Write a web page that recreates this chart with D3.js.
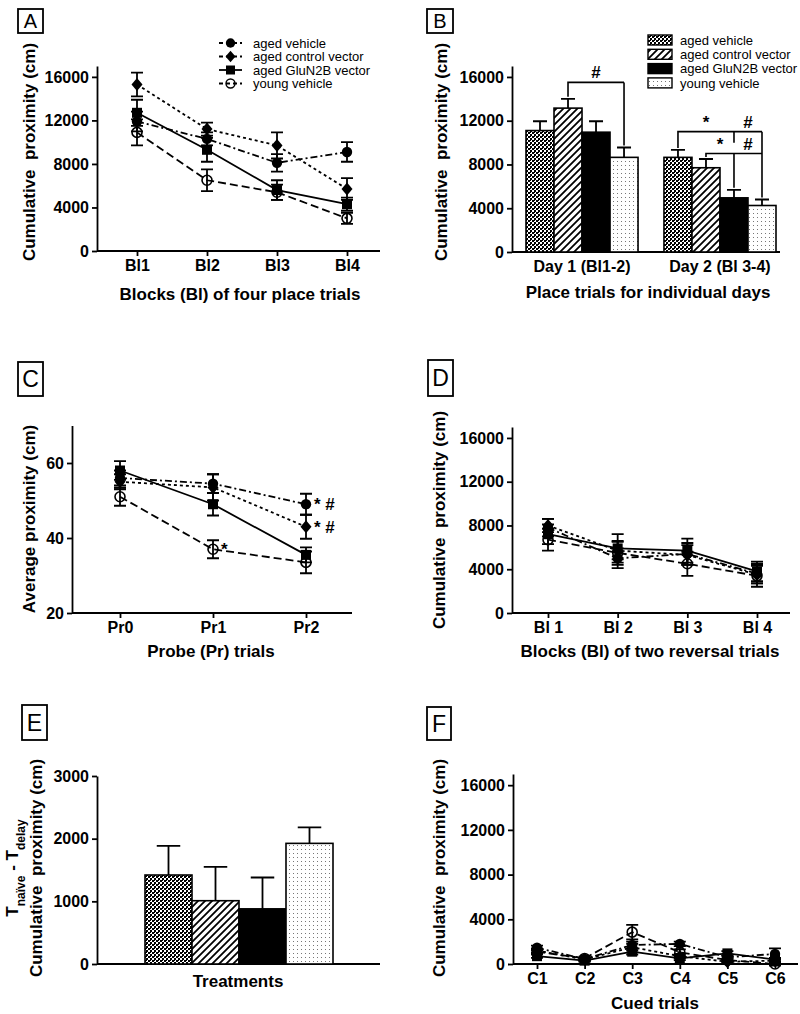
<!DOCTYPE html>
<html>
<head>
<meta charset="utf-8">
<script src="https://d3js.org/d3.v7.min.js"></script>
<style>
    body { margin: 0; background: #fff; }
    svg text { font-family: "Liberation Sans", Arial, sans-serif; fill: #000; }
    .axis path, .axis line { stroke: #000; stroke-width: 1.8; }
    .axis .tick text { font-size: 16px; font-weight: bold; }
    .ttl { font-size: 17px; font-weight: bold; white-space: pre; }
    .leg { font-size: 13px; }
    .sig { font-size: 17px; font-weight: bold; white-space: pre; }
</style>
</head>
<body>
<svg id="fig" width="800" height="1014"></svg>
<script>
    // ---- data ----
    var groups = ["aged vehicle", "aged control vector", "aged GluN2B vector", "young vehicle"];

    // A: place trials, blocks of four
    var blocksA = ["Bl1", "Bl2", "Bl3", "Bl4"];
    var meanA = [[11900, 10300, 8100, 9100], [15300, 11200, 9700, 5700], [12700, 9300, 5600, 4300], [10900, 6500, 5400, 3000]];
    var semA = [[900, 600, 800, 900], [1100, 600, 1200, 1000], [1200, 1100, 900, 600], [1200, 1000, 700, 500]];

    // B: place trials per day
    var days = ["Day 1 (Bl1-2)", "Day 2 (Bl 3-4)"];
    var meanB = [[11100, 8650], [13150, 7700], [10950, 4950], [8650, 4250]];
    var semB = [[850, 680], [850, 800], [1000, 730], [900, 550]];

    // C: probe trials
    var probes = ["Pr0", "Pr1", "Pr2"];
    var meanC = [[56, 54.5, 49], [55, 53.5, 43], [58, 49, 35.5], [51, 37, 33.5]];
    var semC = [[2, 2.5, 2.8], [2, 3.5, 3.2], [2.5, 3, 2], [2.4, 2.4, 2.9]];
    var sigC = [{ s: 3, i: 1, t: "*" }, { s: 0, i: 2, t: "* #" }, { s: 1, i: 2, t: "* #" }];

    // D: reversal trials
    var blocksD = ["Bl 1", "Bl 2", "Bl 3", "Bl 4"];
    var meanD = [[7800, 5000, 5400, 3600], [8000, 5700, 5300, 3500], [7200, 5900, 5700, 3800], [6700, 5500, 4500, 3400]];
    var semD = [[800, 900, 1000, 900], [600, 800, 900, 800], [900, 1300, 1100, 900], [1000, 1100, 1100, 1000]];

    // E: T naive - T delay
    var meanE = [1420, 1010, 880, 1925];
    var semE = [465, 540, 500, 255];

    // F: cued trials
    var cued = ["C1", "C2", "C3", "C4", "C5", "C6"];
    var meanF = [[1450, 450, 1700, 1800, 600, 900], [1200, 400, 1500, 700, 200, 300], [700, 300, 1100, 500, 950, 400], [1100, 500, 2850, 1050, 350, 0]];
    var semF = [[200, 150, 300, 200, 150, 500], [200, 150, 300, 200, 100, 150], [150, 100, 250, 150, 200, 150], [200, 150, 650, 250, 150, 150]];

    // ---- styles ----
    var dashes = ["7,3,2,3", "3,3", null, "8,4"];
    var shapes = ["circle", "diamond", "square", "open"];
    var fills = ["url(#pCheck)", "url(#pHatch)", "#000", "url(#pDots)"];

    var svg = d3.select("#fig");
    var defs = svg.append("defs");

    var pc = defs.append("pattern").attr("id", "pCheck").attr("patternUnits", "userSpaceOnUse").attr("width", 4).attr("height", 4);
    pc.append("rect").attr("width", 4).attr("height", 4).attr("fill", "#fff");
    pc.append("rect").attr("width", 2).attr("height", 2).attr("fill", "#000");
    pc.append("rect").attr("x", 2).attr("y", 2).attr("width", 2).attr("height", 2).attr("fill", "#000");
    pc.append("rect").attr("x", 2).attr("y", 0).attr("width", 1).attr("height", 1).attr("fill", "#000");

    var ph = defs.append("pattern").attr("id", "pHatch").attr("patternUnits", "userSpaceOnUse").attr("width", 7).attr("height", 7);
    ph.append("rect").attr("width", 7).attr("height", 7).attr("fill", "#fff");
    ph.append("path").attr("d", "M-2,2L2,-2M0,7L7,0M5,9L9,5").attr("stroke", "#000").attr("stroke-width", 1.8);

    var pd = defs.append("pattern").attr("id", "pDots").attr("patternUnits", "userSpaceOnUse").attr("width", 4).attr("height", 4);
    pd.append("rect").attr("width", 4).attr("height", 4).attr("fill", "#fff");
    pd.append("rect").attr("x", 1).attr("y", 1).attr("width", 1).attr("height", 1).attr("fill", "#777");

    function marker(g, shape, x, y, k) {
        k = k || 1;
        var p = g.append("path").attr("transform", "translate(" + x + "," + y + ") scale(" + k + ")");
        if (shape == "circle") p.attr("d", d3.symbol(d3.symbolCircle, 85)()).attr("fill", "#000");
        if (shape == "square") p.attr("d", "M-5,-5h10v10h-10z").attr("fill", "#000");
        if (shape == "diamond") p.attr("d", "M0,-6.5L5.5,0L0,6.5L-5.5,0Z").attr("fill", "#000");
        if (shape == "open") p.attr("d", d3.symbol(d3.symbolCircle, 78)()).attr("fill", "none").attr("stroke", "#000").attr("stroke-width", 1.6);
    }

    function panelBox(x, y, w, h, letter, fs) {
        svg.append("rect").attr("x", x).attr("y", y).attr("width", w).attr("height", h)
            .attr("fill", "none").attr("stroke", "#000").attr("stroke-width", 1.8);
        svg.append("text").attr("x", x + w / 2).attr("y", y + h / 2).attr("dy", "0.36em")
            .attr("text-anchor", "middle").style("font-size", fs + "px").text(letter);
    }

    function yTitle(bx, yc, txt) {
        return svg.append("text").attr("class", "ttl").attr("text-anchor", "middle")
            .attr("transform", "translate(" + bx + "," + yc + ") rotate(-90)").text(txt);
    }

    function xTitle(xc, by, txt) {
        svg.append("text").attr("class", "ttl").attr("text-anchor", "middle").attr("x", xc).attr("y", by).text(txt);
    }

    function axes(y, ticks, left, right, bottom, x, tickLen) {
        svg.append("g").attr("class", "axis").attr("transform", "translate(" + left + ",0)")
            .call(d3.axisLeft(y).tickValues(ticks).tickSize(5).tickSizeOuter(0).tickPadding(3).tickFormat(d3.format("d")));
        svg.append("line").attr("x1", left).attr("x2", right).attr("y1", bottom).attr("y2", bottom)
            .attr("stroke", "#000").attr("stroke-width", 1.8);
        if (x) {
            var ax = svg.append("g").attr("class", "axis").attr("transform", "translate(0," + bottom + ")")
                .call(d3.axisBottom(x).tickSize(tickLen).tickPadding(9 - tickLen));
            ax.select(".domain").remove();
        }
    }

    function linePanel(cfg) {
        var x = d3.scalePoint().domain(cfg.cats).range([cfg.first, cfg.last]);
        var y = d3.scaleLinear().domain(cfg.dom).range([cfg.bottom, cfg.top]);
        axes(y, cfg.ticks, cfg.left, cfg.right, cfg.bottom, x, 5);
        var g = svg.append("g");
        var series = cfg.means.map(function (m, s) {
            return m.map(function (v, i) { return { c: cfg.cats[i], v: v, e: cfg.sems[s][i] }; });
        });
        series.forEach(function (pts, s) {
            g.append("path").datum(pts)
                .attr("d", d3.line().x(function (d) { return x(d.c); }).y(function (d) { return y(d.v); }))
                .attr("fill", "none").attr("stroke", "#000").attr("stroke-width", 1.8)
                .attr("stroke-dasharray", dashes[s]);
        });
        series.forEach(function (pts) {
            pts.forEach(function (d) {
                var cx = x(d.c), y1 = y(d.v + d.e), y2 = y(d.v - d.e);
                g.append("path").attr("d", "M" + cx + "," + y1 + "V" + y2 + "M" + (cx - 6) + "," + y1 + "h12M" + (cx - 6) + "," + y2 + "h12")
                    .attr("stroke", "#000").attr("stroke-width", 1.8).attr("fill", "none");
            });
        });
        series.forEach(function (pts, s) {
            pts.forEach(function (d) { marker(g, shapes[s], x(d.c), y(d.v)); });
        });
        return { x: x, y: y };
    }

    // ---- A ----
    panelBox(18, 9, 25, 24, "A", 20);
    linePanel({ cats: blocksA, means: meanA, sems: semA, dom: [0, 17000], ticks: [0, 4000, 8000, 12000, 16000],
        left: 97, right: 380, bottom: 251, top: 66, first: 137, last: 347 });
    yTitle(35, 152, "Cumulative  proximity (cm)");
    xTitle(240, 300, "Blocks (Bl) of four place trials");
    groups.forEach(function (name, s) {
        var ly = 43 + s * 13.5;
        svg.append("line").attr("x1", 219).attr("x2", 242).attr("y1", ly).attr("y2", ly)
            .attr("stroke", "#000").attr("stroke-width", 1.8).attr("stroke-dasharray", s == 2 ? null : "4,3");
        marker(svg, shapes[s], 230.5, ly, 0.9);
        svg.append("text").attr("class", "leg").attr("x", 253).attr("y", ly).attr("dy", "0.36em").text(name);
    });

    // ---- B ----
    panelBox(427, 9, 26, 24, "B", 20);
    var yB = d3.scaleLinear().domain([0, 17000]).range([252, 66]);
    var xB = d3.scaleBand().domain(days).range([526, 776]).paddingInner(0.188);
    var xB1 = d3.scaleBand().domain(groups).range([0, xB.bandwidth()]);
    axes(yB, [0, 4000, 8000, 12000, 16000], 512, 780, 252, xB, 0);
    var gB = svg.append("g");
    groups.forEach(function (name, s) {
        days.forEach(function (day, j) {
            var bx = xB(day) + xB1(name), bw = xB1.bandwidth(), v = meanB[s][j], e = semB[s][j];
            gB.append("path").attr("d", "M" + (bx + bw / 2) + "," + yB(v) + "V" + yB(v + e) + "M" + (bx + bw / 4) + "," + yB(v + e) + "h" + (bw / 2))
                .attr("stroke", "#000").attr("stroke-width", 1.8);
            gB.append("rect").attr("x", bx).attr("y", yB(v)).attr("width", bw).attr("height", yB(0) - yB(v))
                .attr("fill", fills[s]).attr("stroke", "#000").attr("stroke-width", 1.6);
        });
    });
    yTitle(447, 152, "Cumulative  proximity (cm)");
    xTitle(648, 298, "Place trials for individual days");
    groups.forEach(function (name, s) {
        var ly = 40 + s * 14.3;
        svg.append("rect").attr("x", 648).attr("y", ly - 5).attr("width", 24).attr("height", 10)
            .attr("fill", fills[s]).attr("stroke", "#000").attr("stroke-width", 1.4);
        svg.append("text").attr("class", "leg").attr("x", 680).attr("y", ly).attr("dy", "0.36em").text(name);
    });

    // significance brackets in B
    var bracketsB = [
        { day: 0, from: 1, legs: [3], short: [], level: 15500, labels: ["#"] },
        { day: 1, from: 0, legs: [2, 3], short: [2], level: 11000, labels: ["*", "#"] },
        { day: 1, from: 1, legs: [2, 3], short: [3], level: 9000, labels: ["*", "#"] }
    ];
    function barX(day, s) { return xB(days[day]) + xB1(groups[s]) + xB1.bandwidth() / 2; }
    function barTop(day, s) { return yB(meanB[s][day] + semB[s][day]) - 2; }
    bracketsB.forEach(function (b) {
        var ly = yB(b.level), all = [b.from].concat(b.legs);
        var lastX = barX(b.day, all[all.length - 1]);
        var d = "M" + barX(b.day, b.from) + "," + barTop(b.day, b.from) + "V" + ly + "H" + lastX;
        b.legs.forEach(function (s) {
            var bottom = b.short.indexOf(s) >= 0 ? ly + 11 : barTop(b.day, s);
            if (b.short.indexOf(s) >= 0 && s == 3) return;
            d += "M" + barX(b.day, s) + "," + ly + "V" + bottom;
        });
        gB.append("path").attr("d", d).attr("fill", "none").attr("stroke", "#000").attr("stroke-width", 1.6);
        b.labels.forEach(function (t, k) {
            var mx = (barX(b.day, all[k]) + barX(b.day, all[k + 1])) / 2;
            gB.append("text").attr("class", "sig").attr("text-anchor", "middle").attr("x", mx).attr("y", ly - 4).text(t);
        });
    });

    // ---- C ----
    panelBox(18, 362, 25, 34, "C", 23);
    var sc = linePanel({ cats: probes, means: meanC, sems: semC, dom: [20, 70], ticks: [20, 40, 60],
        left: 72, right: 352, bottom: 613, top: 425.5, first: 120, last: 306 });
    sigC.forEach(function (a) {
        svg.append("text").attr("class", "sig").attr("x", sc.x(probes[a.i]) + 8).attr("y", sc.y(meanC[a.s][a.i]) + 6).text(a.t);
    });
    yTitle(35, 519, "Average proximity (cm)");
    xTitle(211, 657, "Probe (Pr) trials");

    // ---- D ----
    panelBox(428, 360, 25, 36, "D", 23);
    linePanel({ cats: blocksD, means: meanD, sems: semD, dom: [0, 17000], ticks: [0, 4000, 8000, 12000, 16000],
        left: 512, right: 790, bottom: 613, top: 427, first: 548, last: 757 });
    yTitle(445, 520, "Cumulative  proximity (cm)");
    xTitle(650, 657, "Blocks (Bl) of two reversal trials");

    // ---- E ----
    panelBox(22, 705, 25, 35, "E", 23);
    var yE = d3.scaleLinear().domain([0, 3000]).range([964, 776]);
    var xE = d3.scaleBand().domain(groups).range([145, 333]);
    axes(yE, [0, 1000, 2000, 3000], 97, 380, 964, null, 0);
    groups.forEach(function (name, s) {
        var bx = xE(name), bw = xE.bandwidth(), v = meanE[s], e = semE[s];
        svg.append("path").attr("d", "M" + (bx + bw / 2) + "," + yE(v) + "V" + yE(v + e) + "M" + (bx + bw / 4) + "," + yE(v + e) + "h" + (bw / 2))
            .attr("stroke", "#000").attr("stroke-width", 1.8);
        svg.append("rect").attr("x", bx).attr("y", yE(v)).attr("width", bw).attr("height", yE(0) - yE(v))
            .attr("fill", fills[s]).attr("stroke", "#000").attr("stroke-width", 1.6);
    });
    yTitle(42, 868, "Cumulative  proximity (cm)");
    var tE = yTitle(18, 868, "");
    tE.append("tspan").text("T");
    tE.append("tspan").attr("baseline-shift", "sub").style("font-size", "12px").text("naïve");
    tE.append("tspan").text(" - T");
    tE.append("tspan").attr("baseline-shift", "sub").style("font-size", "12px").text("delay");
    xTitle(238, 987, "Treatments");

    // ---- F ----
    panelBox(427, 707, 24, 33, "F", 23);
    linePanel({ cats: cued, means: meanF, sems: semF, dom: [0, 17000], ticks: [0, 4000, 8000, 12000, 16000],
        left: 513, right: 798, bottom: 964, top: 774, first: 537, last: 775 });
    yTitle(445, 868, "Cumulative  proximity (cm)");
    xTitle(655, 1009, "Cued trials");
</script>
</body>
</html>
